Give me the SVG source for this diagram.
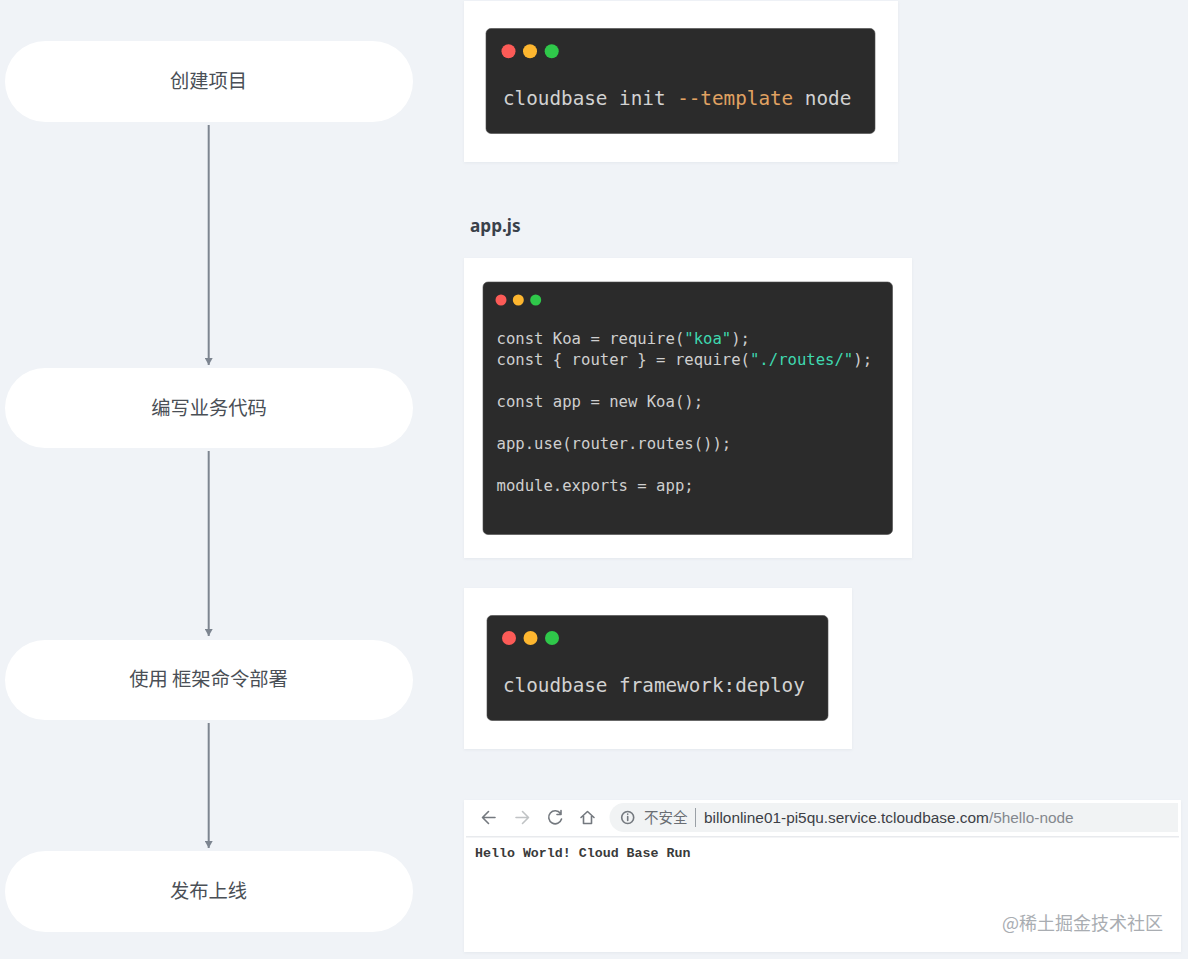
<svg xmlns="http://www.w3.org/2000/svg" width="1188" height="959" viewBox="0 0 1188 959">
<style>
.pill{fill:#fff}
.lbl{font-family:"Noto Sans CJK SC","Noto Sans",sans-serif;font-size:19.300px;fill:#4a4f56;text-anchor:middle}
.card{fill:#fff;filter:url(#s)}
.term{fill:#2b2b2b;stroke:#4a4a4a;stroke-width:.6}
.r{fill:#fc5b57}.y{fill:#fdb62f}.g{fill:#2fc84a}
.big{font-family:"DejaVu Sans Mono",monospace;font-size:19.3px;fill:#d2d2d2}
.code{font-family:"DejaVu Sans Mono",monospace;font-size:15.6px;fill:#cfcfcf}
.str{fill:#3fd9b0}
.opt{fill:#e0a262}
.conn{stroke:#7d8590;stroke-width:2;fill:none;marker-end:url(#a)}
.ui{stroke:#74797f;stroke-width:1.6;fill:none;stroke-linecap:round;stroke-linejoin:round}
</style>
<defs>
<marker id="a" markerUnits="userSpaceOnUse" markerWidth="9" markerHeight="8" refX="7" refY="4" orient="auto"><path d="M0 0L7 4L0 8Z" fill="#7d8590"/></marker>
<filter id="s" x="-3%" y="-5%" width="106%" height="110%"><feDropShadow dx="0" dy="1" stdDeviation="1.500" flood-color="#dfe3e9" flood-opacity=".7"/></filter>
</defs>
<rect width="1188" height="959" fill="#f0f3f7"/>
<g id="connectors">
<path class="conn" d="M208.700 125V365"/>
<path class="conn" d="M208.700 451V636"/>
<path class="conn" d="M208.700 723V848"/>
</g>
<g id="step-create"><rect class="pill" x="5" y="41" width="408" height="81" rx="40.500"/><text class="lbl" x="208.500" y="88">创建项目</text></g>
<g id="step-code"><rect class="pill" x="5" y="368" width="408" height="80" rx="40"/><text class="lbl" x="209" y="415">编写业务代码</text></g>
<g id="step-deploy"><rect class="pill" x="5" y="640" width="408" height="80" rx="40"/><text class="lbl" x="208.500" y="686">使用 框架命令部署</text></g>
<g id="step-publish"><rect class="pill" x="5" y="851" width="408" height="81" rx="40.500"/><text class="lbl" x="208.500" y="898">发布上线</text></g>
<g id="card-init">
<rect class="card" x="464" y="1" width="434" height="161"/>
<rect class="term" x="486" y="28.500" width="389" height="105" rx="5"/>
<circle class="r" cx="508.500" cy="51.300" r="7"/><circle class="y" cx="530" cy="51.300" r="7"/><circle class="g" cx="551.700" cy="51.300" r="7"/>
<text class="big" x="503" y="105">cloudbase init <tspan class="opt">--template</tspan> node</text>
</g>
<text id="filename" x="470" y="232" font-family="Noto Sans,sans-serif" font-size="17.200" font-weight="700" fill="#3a414a">app.js</text>
<g id="card-app">
<rect class="card" x="464" y="258" width="448" height="300"/>
<rect class="term" x="483" y="282" width="409.500" height="252.500" rx="5"/>
<circle class="r" cx="501" cy="300" r="5.500"/><circle class="y" cx="518.300" cy="300" r="5.500"/><circle class="g" cx="535.700" cy="300" r="5.500"/>
<text class="code" x="496.500" y="344">const Koa = require(<tspan class="str">"koa"</tspan>);</text>
<text class="code" x="496.500" y="365">const { router } = require(<tspan class="str">"./routes/"</tspan>);</text>
<text class="code" x="496.500" y="407">const app = new Koa();</text>
<text class="code" x="496.500" y="449">app.use(router.routes());</text>
<text class="code" x="496.500" y="490.500">module.exports = app;</text>
</g>
<g id="card-deploy">
<rect class="card" x="464" y="588" width="388" height="161"/>
<rect class="term" x="487" y="615.500" width="341" height="105" rx="5"/>
<circle class="r" cx="509" cy="638" r="7"/><circle class="y" cx="530.500" cy="638" r="7"/><circle class="g" cx="552" cy="638" r="7"/>
<text class="big" x="503" y="692">cloudbase framework:deploy</text>
</g>
<g id="browser">
<rect class="card" x="464" y="800" width="717" height="152"/>
<path d="M624 803H1178V832H624A14.500 14.500 0 0 1 624 803Z" fill="#f1f3f4"/>
<rect x="466" y="836" width="713" height="1.500" fill="#e8eaed"/>
<path class="ui" d="M495 817.500H483M488.500 811.500L482.500 817.500L488.500 823.500"/>
<path class="ui" d="M516 817.500H528M522.500 811.500L528.500 817.500L522.500 823.500" stroke-opacity=".45"/>
<path class="ui" d="M560.500 813.500A6.500 6.500 0 1 0 561.500 819M561 810.500V814.500H557"/>
<path class="ui" d="M581 817.500L587.500 811.500L594 817.500M583.500 816V823.500H591.500V816"/>
<circle class="ui" cx="627.700" cy="817.500" r="6" stroke-width="1.200"/>
<path class="ui" d="M627.700 816.500V820.500M627.700 814V814.300" stroke-width="1.200"/>
<text x="644" y="822.500" font-family="Noto Sans CJK SC,sans-serif" font-size="14.500" fill="#6a6e73">不安全</text>
<rect x="695" y="808" width="1" height="19" fill="#9aa0a6"/>
<text x="704" y="822.500" font-family="Liberation Sans,sans-serif" font-size="15.400" fill="#3c4046">billonline01-pi5qu.service.tcloudbase.com<tspan fill="#84888e">/5hello-node</tspan></text>
<text x="475" y="857" font-family="Liberation Mono,monospace" font-size="13.300" font-weight="700" fill="#3a3a3a">Hello World! Cloud Base Run</text>
<text x="1002" y="930" font-family="Noto Sans CJK SC,sans-serif" font-size="18" fill="#a9adb2">@稀土掘金技术社区</text>
</g>
</svg>
